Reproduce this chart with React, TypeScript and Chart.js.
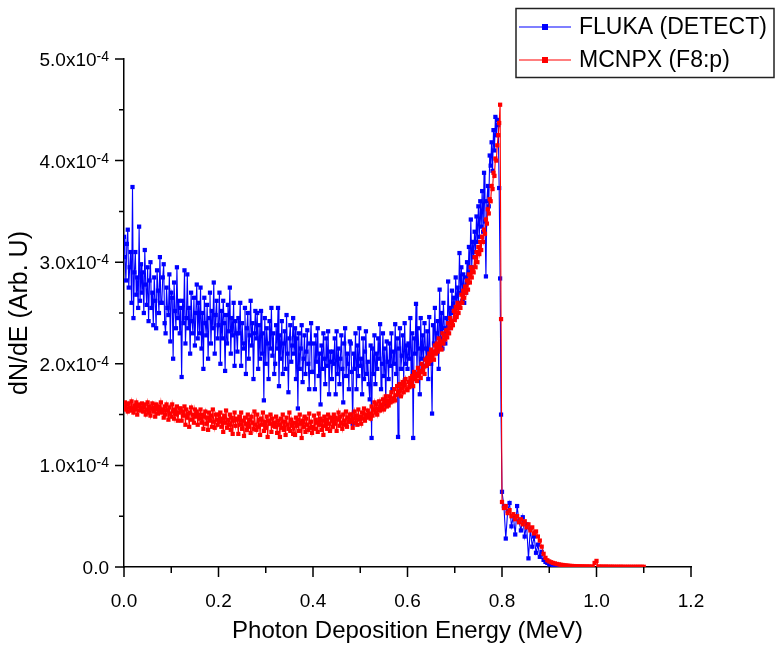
import React, { useEffect, useRef } from "react";
import { Chart, registerables } from "chart.js";

Chart.register(...registerables);

// Energy binning (MeV): fine bins below the Compton edge, coarser bins above it
const LOW_START = 0;
const LOW_STEP = 0.002;
const TAIL_START = 0.8;
const TAIL_STEP = 0.004;

// dN/dE values in units of 1e-4 (Arb. U)
const FLUKA_LOW = [
  3.25, 3.05, 2.82, 3.18, 3.32, 2.75, 2.95, 3.10, 2.60, 3.74, 2.45, 2.90, 3.10, 2.68, 2.85, 2.55, 3.35, 2.62, 2.98, 2.70,
  2.90, 2.50, 3.12, 2.78, 2.58, 2.95, 2.42, 2.82, 3.00, 2.55, 2.70, 2.38, 2.85, 2.62, 2.35, 2.92, 2.72, 2.50, 3.05, 2.60,
  2.60, 2.85, 2.98, 2.40, 2.30, 2.75, 2.55, 2.48, 2.88, 2.22, 2.70, 2.65, 2.05, 2.80, 2.52, 2.35, 2.95, 2.45, 2.62, 2.30,
  2.55, 1.87, 2.62, 2.40, 2.92, 2.20, 2.45, 2.88, 2.35, 2.55, 2.10, 2.70, 2.42, 2.30, 2.65, 2.18, 2.50, 2.78, 2.25, 2.60,
  2.30, 2.75, 2.15, 2.50, 1.95, 2.65, 2.40, 2.28, 2.58, 2.05, 2.45, 2.70, 2.20, 2.52, 2.35, 2.80, 2.10, 2.48, 2.62, 2.25,
  2.38, 2.70, 2.00, 2.52, 2.25, 2.62, 2.40, 1.93, 2.48, 2.20, 2.58, 2.32, 2.75, 2.10, 2.45, 2.28, 2.60, 1.98, 2.42, 2.30,
  2.12, 2.45, 2.30, 2.60, 1.98, 2.40, 2.20, 2.15, 2.55, 1.90, 2.35, 2.50, 2.05, 2.28, 2.62, 2.18, 2.40, 1.85, 2.30, 2.52,
  2.25, 2.50, 1.95, 2.38, 2.05, 2.52, 2.10, 2.30, 1.64, 2.45, 2.00, 2.35, 2.20, 1.85, 2.42, 2.15, 2.55, 2.08, 2.30, 1.90,
  2.00, 2.38, 2.15, 2.55, 1.78, 2.28, 2.05, 2.42, 1.90, 2.20, 2.32, 1.95, 2.48, 2.10, 1.72, 2.25, 2.38, 2.02, 2.18, 2.45,
  2.10, 2.35, 1.85, 2.25, 1.56, 2.30, 1.95, 2.15, 2.38, 1.82, 2.05, 2.28, 1.90, 2.12, 2.33, 2.00, 1.75, 2.20, 2.40, 1.92,
  1.92, 2.20, 1.75, 2.28, 2.02, 2.35, 1.88, 2.10, 1.60, 2.18, 1.95, 2.30, 2.05, 1.80, 2.25, 1.98, 2.32, 1.70, 2.12, 2.02,
  1.85, 2.12, 2.00, 2.25, 1.70, 2.32, 1.90, 2.15, 1.80, 2.05, 2.28, 1.95, 1.62, 2.20, 2.35, 1.88, 2.10, 2.00, 1.75, 2.22,
  2.20, 1.92, 1.41, 2.10, 1.95, 2.30, 1.75, 2.18, 1.88, 2.35, 1.98, 2.05, 1.70, 2.25, 1.85, 2.12, 2.32, 1.90, 2.02, 1.80,
  1.65, 2.18, 1.27, 2.15, 1.90, 2.28, 1.80, 2.10, 1.95, 2.25, 2.05, 2.39, 1.75, 2.00, 2.30, 1.88, 2.15, 1.60, 2.22, 2.02,
  1.85, 2.20, 1.98, 2.30, 1.75, 2.12, 2.00, 2.39, 1.90, 2.25, 1.28, 2.15, 2.35, 1.95, 2.08, 2.28, 1.82, 2.40, 2.00, 2.18,
  1.95, 2.20, 2.05, 2.45, 1.80, 2.30, 1.27, 2.25, 2.10, 2.59, 1.90, 2.35, 2.15, 1.70, 2.45, 2.05, 2.28, 1.98, 2.40, 2.15,
  2.05, 2.32, 1.85, 2.46, 2.10, 2.00, 1.51, 2.38, 2.20, 2.55, 2.12, 2.30, 2.42, 1.95, 2.73, 2.25, 2.50, 2.15, 2.60, 2.35,
  2.20, 2.45, 2.30, 2.81, 2.35, 2.55, 2.40, 2.72, 2.50, 2.65, 2.45, 2.85, 2.55, 2.75, 2.60, 3.09, 2.70, 2.95, 2.62, 2.88,
  2.60, 2.85, 2.70, 3.00, 2.80, 3.15, 2.90, 3.42, 2.95, 3.20, 3.05, 3.30, 3.10, 3.45, 3.20, 3.55, 3.25, 3.60, 3.35, 3.70,
  3.30, 3.88, 3.40, 2.86, 3.60, 3.75, 3.55, 4.05, 3.95, 4.18, 3.90, 4.30, 4.10, 4.43, 4.25, 4.40, 4.35, 3.73, 2.84, 1.50,
];
const FLUKA_TAIL = [
  0.74, 0.60, 0.28, 0.55, 0.63, 0.40, 0.50, 0.32, 0.60, 0.45,
  0.36, 0.49, 0.30, 0.42, 0.085, 0.38, 0.20, 0.30, 0.14, 0.22,
  0.10, 0.15, 0.07, 0.05, 0.04, 0.025, 0.03, 0.015, 0.02, 0.01,
  0.012, 0.008, 0.01, 0.005, 0.006, 0.003,
];

const MCNPX_LOW = [
  1.58, 1.62, 1.55, 1.60, 1.53, 1.61, 1.57, 1.54, 1.63, 1.56, 1.52, 1.59, 1.55, 1.62, 1.50, 1.58, 1.60, 1.54, 1.57, 1.61,
  1.53, 1.57, 1.60, 1.50, 1.55, 1.62, 1.52, 1.58, 1.49, 1.56, 1.61, 1.53, 1.57, 1.48, 1.60, 1.55, 1.51, 1.58, 1.54, 1.62,
  1.52, 1.55, 1.47, 1.58, 1.50, 1.60, 1.54, 1.45, 1.57, 1.51, 1.48, 1.60, 1.53, 1.46, 1.55, 1.50, 1.58, 1.44, 1.52, 1.56,
  1.56, 1.44, 1.53, 1.49, 1.58, 1.40, 1.55, 1.47, 1.51, 1.38, 1.52, 1.57, 1.45, 1.50, 1.42, 1.55, 1.48, 1.53, 1.40, 1.50,
  1.46, 1.55, 1.42, 1.50, 1.36, 1.48, 1.53, 1.41, 1.47, 1.35, 1.52, 1.44, 1.49, 1.38, 1.55, 1.43, 1.37, 1.50, 1.45, 1.40,
  1.50, 1.43, 1.52, 1.38, 1.46, 1.33, 1.49, 1.42, 1.54, 1.37, 1.45, 1.40, 1.50, 1.35, 1.47, 1.31, 1.44, 1.52, 1.39, 1.46,
  1.45, 1.31, 1.48, 1.40, 1.52, 1.36, 1.44, 1.29, 1.47, 1.41, 1.35, 1.50, 1.38, 1.45, 1.32, 1.48, 1.42, 1.36, 1.53, 1.40,
  1.35, 1.50, 1.38, 1.45, 1.30, 1.46, 1.40, 1.52, 1.34, 1.43, 1.37, 1.48, 1.28, 1.44, 1.41, 1.50, 1.33, 1.46, 1.39, 1.42,
  1.38, 1.48, 1.32, 1.44, 1.40, 1.28, 1.46, 1.37, 1.50, 1.35, 1.43, 1.30, 1.47, 1.40, 1.36, 1.52, 1.34, 1.45, 1.39, 1.31,
  1.42, 1.30, 1.47, 1.39, 1.45, 1.34, 1.50, 1.41, 1.27, 1.44, 1.38, 1.48, 1.33, 1.46, 1.40, 1.35, 1.51, 1.37, 1.43, 1.32,
  1.38, 1.49, 1.36, 1.45, 1.42, 1.33, 1.51, 1.40, 1.46, 1.35, 1.44, 1.30, 1.48, 1.39, 1.45, 1.36, 1.50, 1.41, 1.34, 1.47,
  1.44, 1.38, 1.50, 1.41, 1.47, 1.34, 1.45, 1.52, 1.39, 1.48, 1.42, 1.36, 1.50, 1.44, 1.40, 1.53, 1.38, 1.47, 1.43, 1.50,
  1.43, 1.50, 1.37, 1.46, 1.53, 1.42, 1.49, 1.40, 1.55, 1.45, 1.48, 1.41, 1.52, 1.46, 1.56, 1.44, 1.50, 1.47, 1.54, 1.49,
  1.51, 1.46, 1.58, 1.49, 1.55, 1.62, 1.52, 1.60, 1.50, 1.56, 1.63, 1.54, 1.60, 1.57, 1.65, 1.55, 1.62, 1.68, 1.58, 1.64,
  1.59, 1.68, 1.62, 1.72, 1.63, 1.66, 1.75, 1.64, 1.69, 1.78, 1.70, 1.73, 1.80, 1.68, 1.76, 1.82, 1.72, 1.79, 1.85, 1.75,
  1.74, 1.82, 1.77, 1.86, 1.80, 1.88, 1.78, 1.92, 1.85, 1.90, 1.83, 1.96, 1.88, 1.93, 1.86, 2.00, 1.92, 1.97, 1.90, 2.04,
  1.98, 2.06, 2.00, 2.10, 2.03, 2.14, 2.06, 2.12, 2.04, 2.18, 2.10, 2.20, 2.12, 2.25, 2.16, 2.22, 2.14, 2.30, 2.20, 2.28,
  2.24, 2.33, 2.26, 2.40, 2.30, 2.45, 2.35, 2.42, 2.38, 2.52, 2.43, 2.56, 2.46, 2.60, 2.50, 2.58, 2.55, 2.68, 2.60, 2.72,
  2.65, 2.76, 2.70, 2.82, 2.73, 2.88, 2.80, 2.95, 2.85, 2.92, 2.90, 3.05, 2.95, 3.10, 3.00, 3.15, 3.08, 3.20, 3.12, 3.25,
  3.20, 3.32, 3.28, 3.42, 3.38, 3.52, 3.48, 3.62, 3.60, 3.75, 3.72, 3.88, 3.85, 4.02, 4.00, 4.15, 4.25, 4.37, 4.55, 2.44,
];
const MCNPX_TAIL = [
  0.64, 0.58, 0.60, 0.53, 0.56, 0.50, 0.52, 0.47, 0.50, 0.44,
  0.47, 0.42, 0.45, 0.39, 0.42, 0.36, 0.39, 0.33, 0.35, 0.30,
  0.26, 0.20, 0.13, 0.09, 0.066, 0.055, 0.047, 0.04, 0.035, 0.03,
  0.026, 0.022, 0.02, 0.017, 0.015, 0.013, 0.011, 0.01, 0.009, 0.008,
  0.007, 0.007, 0.006, 0.006, 0.005, 0.005, 0.005, 0.004, 0.004, 0.04,
  0.06, 0.004, 0.004, 0.004, 0.003, 0.004, 0.003, 0.003, 0.003, 0.003,
  0.002, 0.003, 0.002, 0.003, 0.002, 0.002, 0.002, 0.002, 0.002, 0.002,
  0.002, 0.002, 0.002, 0.002, 0.002, 0.002,
];

const SERIES_NAMES = ["FLUKA (DETECT)", "MCNPX (F8:p)"];
const SERIES_COLORS = ["#0000FF", "#FF0000"];
const Y_UNIT = 1e-4;

const X_TICKS = [0, 0.2, 0.4, 0.6, 0.8, 1.0, 1.2];
const X_MINOR = [0.1, 0.3, 0.5, 0.7, 0.9, 1.1];
const Y_TICKS = [0, 1, 2, 3, 4, 5]; // multiples of 1e-4
const Y_MINOR = [0.5, 1.5, 2.5, 3.5, 4.5];
const Y_EXP = "-4";
const X_TITLE = "Photon Deposition Energy (MeV)";
const Y_TITLE = "dN/dE (Arb. U)";

const FONT = "'Liberation Sans', Arial, Helvetica, sans-serif";

function toPoints(low: number[], tail: number[]) {
  const a = low.map((v, i) => ({ x: +(LOW_START + i * LOW_STEP).toFixed(4), y: v * Y_UNIT }));
  const b = tail.map((v, i) => ({ x: +(TAIL_START + i * TAIL_STEP).toFixed(4), y: v * Y_UNIT }));
  return a.concat(b);
}

const decorPlugin = {
  id: "decor",
  afterDraw(chart: any) {
    const ctx: CanvasRenderingContext2D = chart.ctx;
    const xs = chart.scales.x;
    const ys = chart.scales.y;
    const area = chart.chartArea;
    ctx.save();
    ctx.strokeStyle = "#000";
    ctx.lineWidth = 1.5;
    ctx.beginPath();
    X_TICKS.forEach((t) => {
      const px = xs.getPixelForValue(t);
      ctx.moveTo(px, area.bottom);
      ctx.lineTo(px, area.bottom + 10);
    });
    X_MINOR.forEach((t) => {
      const px = xs.getPixelForValue(t);
      ctx.moveTo(px, area.bottom);
      ctx.lineTo(px, area.bottom + 6);
    });
    Y_TICKS.forEach((t) => {
      const py = ys.getPixelForValue(t * Y_UNIT);
      ctx.moveTo(area.left, py);
      ctx.lineTo(area.left - 9, py);
    });
    Y_MINOR.forEach((t) => {
      const py = ys.getPixelForValue(t * Y_UNIT);
      ctx.moveTo(area.left, py);
      ctx.lineTo(area.left - 5, py);
    });
    ctx.stroke();

    // y tick labels with superscript exponent
    ctx.fillStyle = "#000";
    ctx.textBaseline = "alphabetic";
    ctx.textAlign = "right";
    const rightEdge = area.left - 15;
    Y_TICKS.forEach((t) => {
      const py = ys.getPixelForValue(t * Y_UNIT);
      if (t === 0) {
        ctx.font = `19px ${FONT}`;
        ctx.fillText("0.0", rightEdge, py + 7);
      } else {
        ctx.font = `14px ${FONT}`;
        const supW = ctx.measureText(Y_EXP).width;
        ctx.fillText(Y_EXP, rightEdge, py + 2);
        ctx.font = `19px ${FONT}`;
        ctx.fillText(`${t.toFixed(1)}x10`, rightEdge - supW, py + 7);
      }
    });

    // legend box
    const lx = 516, ly = 8.5, lw = 258, lh = 69;
    ctx.lineWidth = 1.5;
    ctx.strokeStyle = "#222";
    ctx.strokeRect(lx, ly, lw, lh);
    ctx.textAlign = "left";
    ctx.textBaseline = "middle";
    ctx.font = `23px ${FONT}`;
    const rows = [27, 60];
    SERIES_NAMES.forEach((name, i) => {
      const y = rows[i];
      ctx.strokeStyle = SERIES_COLORS[i];
      ctx.lineWidth = 1.2;
      ctx.beginPath();
      ctx.moveTo(519, y);
      ctx.lineTo(571, y);
      ctx.stroke();
      ctx.fillStyle = SERIES_COLORS[i];
      ctx.fillRect(545 - 3, y - 3, 6, 6);
      ctx.fillStyle = "#000";
      ctx.fillText(name, 579, y + 1);
    });
    ctx.restore();
  },
};

export default function App() {
  const ref = useRef<HTMLCanvasElement | null>(null);
  useEffect(() => {
    if (!ref.current) return;
    const mk = (i: number, data: any[], order: number) => ({
      label: SERIES_NAMES[i],
      data,
      borderColor: SERIES_COLORS[i],
      backgroundColor: SERIES_COLORS[i],
      pointBackgroundColor: SERIES_COLORS[i],
      borderWidth: 1.1,
      pointStyle: "rect",
      pointRadius: 3,
      pointBorderWidth: 0,
      tension: 0,
      order,
    });
    const chart = new Chart(ref.current, {
      type: "line",
      data: {
        datasets: [
          mk(0, toPoints(FLUKA_LOW, FLUKA_TAIL), 1),
          mk(1, toPoints(MCNPX_LOW, MCNPX_TAIL), 0),
        ],
      },
      options: {
        animation: false,
        responsive: false,
        maintainAspectRatio: false,
        layout: { padding: { top: 59, right: 85, bottom: 0, left: 0 } },
        plugins: { legend: { display: false }, tooltip: { enabled: false } },
        scales: {
          x: {
            type: "linear",
            min: 0,
            max: 1.2,
            grid: { display: false },
            border: { display: true, color: "#000", width: 1.5 },
            ticks: {
              stepSize: 0.2,
              autoSkip: false,
              maxRotation: 0,
              padding: 15,
              color: "#000",
              font: { family: FONT, size: 19 },
              callback: (v: any) => Number(v).toFixed(1),
            },
            title: {
              display: true,
              text: X_TITLE,
              color: "#000",
              font: { family: FONT, size: 24 },
              padding: { top: 0, bottom: 4 },
            },
            afterFit: (s: any) => {
              s.height = 83;
            },
          },
          y: {
            type: "linear",
            min: 0,
            max: 5e-4,
            grid: { display: false },
            border: { display: true, color: "#000", width: 1.5 },
            ticks: { display: false, stepSize: 1e-4 },
            title: {
              display: true,
              text: Y_TITLE,
              color: "#000",
              font: { family: FONT, size: 25 },
              padding: { top: 5, bottom: 0 },
            },
            afterFit: (s: any) => {
              s.width = 124;
            },
          },
        },
      },
      plugins: [decorPlugin],
    } as any);
    return () => chart.destroy();
  }, []);
  return (
    <div style={{ position: "absolute", left: 0, top: 0, width: 776, height: 650 }}>
      <canvas ref={ref} width={776} height={650} />
    </div>
  );
}
